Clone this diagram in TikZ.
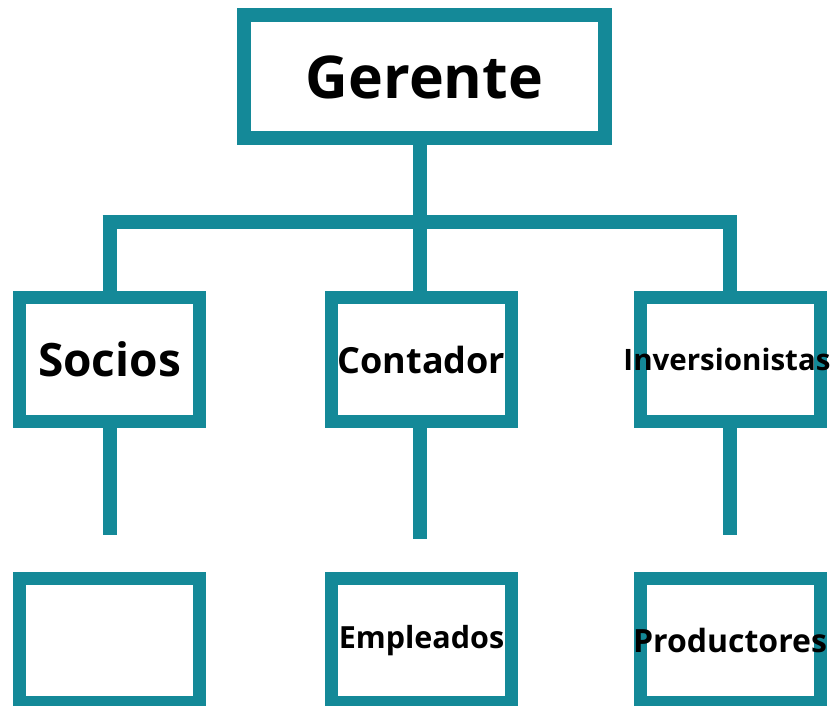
\documentclass[tikz,border=0pt]{standalone}
\usepackage{fontspec}
\setmainfont{Open Sans}[BoldFont={Open Sans Bold}]
\definecolor{teal}{RGB}{20,137,152}
\newcommand{\boxtext}[3]{\raisebox{#2}{\makebox[0pt][c]{\fontsize{#1}{#1}\selectfont #3}}}
\tikzset{
  box/.style={draw=teal, line width=13pt, fill=white, rectangle, inner sep=0pt,
    minimum width=180pt, minimum height=124pt, font=\bfseries},
  link/.style={draw=teal, line width=14pt}
}
\begin{document}
\begin{tikzpicture}[x=1pt,y=-1pt]
      \useasboundingbox[fill=white] (0,0) rectangle (831,706);
      % Top Box
      \node[box, line width=14pt, minimum width=361pt, minimum height=123pt] (gerente) at (424.5, 77)
        {\boxtext{59}{-2pt}{Gerente}};
      % Second Row
      \node[box] (socios) at (109.5, 359.5) {\boxtext{46}{0pt}{Socios}};
      \node[box] (contador) at (421.5, 359.5) {\boxtext{36}{-6pt}{Contador}};
      \node[box] (inversionistas) at (730, 359.5) {\boxtext{29.5}{-5pt}{\hspace*{-6pt}Inversionistas}};
      % Third Row
      \node[box] (vacio) at (109.5, 640.5) {};
      \node[box] (empleados) at (421.5, 640.5) {\boxtext{30.5}{-1pt}{Empleados}};
      \node[box] (productores) at (730, 640.5) {\boxtext{32}{1pt}{Productores}};
      % Bar Coordinates
      \coordinate (bar) at (420, 222);
      \coordinate (barleft) at (109.5, 222);
      \coordinate (barright) at (730, 222);
      \coordinate (endsocios) at (109.5, 535);
      \coordinate (endcontador) at (420, 539);
      \coordinate (endinversionistas) at (730, 535);
      % Connectors
      \draw[link] (gerente.south -| bar) -- (bar);
      \draw[link] ([xshift=-7pt]barleft) -- ([xshift=7pt]barright);
      \draw[link] ([yshift=-7pt]barleft) -- (socios.north);
      \draw[link] (bar) -- (contador.north -| bar);
      \draw[link] ([yshift=-7pt]barright) -- (inversionistas.north);
      % Stems Below
      \draw[link] (socios.south) -- (endsocios);
      \draw[link] (contador.south -| endcontador) -- (endcontador);
      \draw[link] (inversionistas.south) -- (endinversionistas);
\end{tikzpicture}
\end{document}
